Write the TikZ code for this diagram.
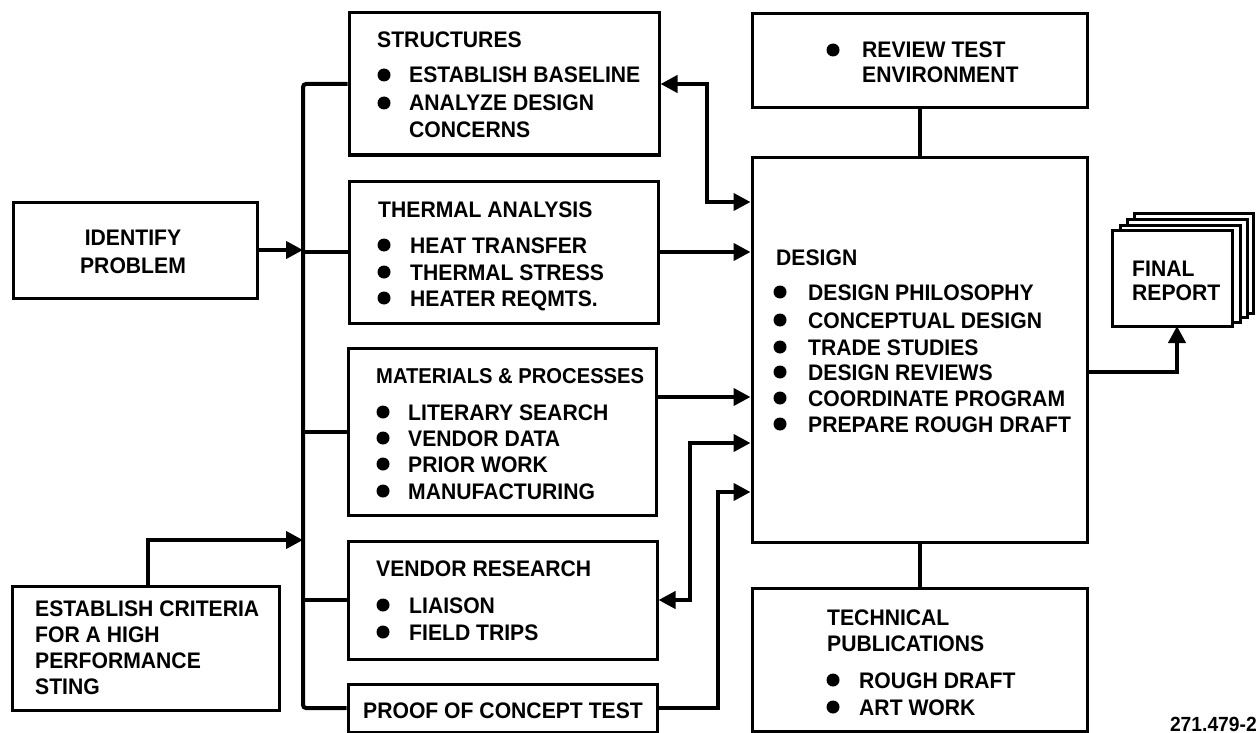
\documentclass[tikz,border=0pt]{standalone}
\usepackage{fontspec}
\setmainfont{Liberation Sans}[FakeStretch=0.94]
\usetikzlibrary{arrows.meta,fit}
\tikzset{
  box/.style={draw, line width=3pt, inner sep=0pt, fill=none},
  ln/.style={line width=4pt},
  arr/.style={line width=4pt, -{Triangle[length=17pt,width=17pt]}},
  darr/.style={line width=4pt, {Triangle[length=17pt,width=17pt]}-{Triangle[length=17pt,width=17pt]}},
  t/.style={inner sep=0pt, font=\fontsize{22.5}{26}\selectfont\bfseries},
}
\newcommand\tl[4]{\node[t, anchor=base west] (#1) at (#2,#3) {#4};}
\newcommand\tc[4]{\node[t, anchor=base] (#1) at (#2,#3) {#4};}
\newcommand\bul[2]{\fill (#1,#2) circle[radius=6.5pt];}
\begin{document}
\begin{tikzpicture}[x=1pt,y=-1pt]
\useasboundingbox (0,0) rectangle (1258,733);
% boxes
\node[box, fit={(13,202) (257,298)}] (idp) {};
\node[box, fit={(12,586) (279,710)}] (crit) {};
\node[box, fit={(349,13) (659,155)}] (str) {};
\node[box, fit={(349,181) (658,323)}] (thm) {};
\node[box, fit={(348,348) (656,515)}] (mat) {};
\node[box, fit={(348,541) (657,659)}] (ven) {};
\node[box, fit={(348,684) (657,732)}] (poc) {};
\node[box, fit={(752,14) (1087,108)}] (rev) {};
\node[box, fit={(752,157) (1087,542)}] (des) {};
\node[box, fit={(752,588) (1087,731)}] (tec) {};
% final report stack
\node[box, fill=white, fit={(1134,213) (1253,313)}] (fin3) {};
\node[box, fill=white, fit={(1127,219) (1247,317)}] (fin2) {};
\node[box, fill=white, fit={(1120,225) (1240,322)}] (fin1) {};
\node[box, fill=white, fit={(1112,230) (1232,326)}] (fin) {};
% texts
\tc{idp1}{133}{245}{IDENTIFY}
\tc{idp2}{133}{273}{PROBLEM}
\tl{cr1}{35}{616}{ESTABLISH CRITERIA}
\tl{cr2}{35}{642}{FOR A HIGH}
\tl{cr3}{35}{668}{PERFORMANCE}
\tl{cr4}{35}{694}{STING}
\tl{st0}{377}{48}{STRUCTURES}
\bul{384}{75}\bul{384}{103}
\tl{st1}{409}{83}{ESTABLISH BASELINE}
\tl{st2}{409}{111}{ANALYZE DESIGN}
\tl{st3}{409}{138}{CONCERNS}
\tl{th0}{378}{217}{THERMAL ANALYSIS}
\bul{384}{245}\bul{384}{272}\bul{384}{298}
\tl{th1}{410}{253}{HEAT TRANSFER}
\tl{th2}{410}{280}{THERMAL STRESS}
\tl{th3}{410}{306}{HEATER REQMTS.}
\node[t, anchor=base west, font=\fontsize{21.5}{26}\selectfont\bfseries] (ma0) at (376,383) {MATERIALS \& PROCESSES};
\bul{383}{412}\bul{383}{438}\bul{383}{464}\bul{383}{491}
\tl{ma1}{408}{420}{LITERARY SEARCH}
\tl{ma2}{408}{446}{VENDOR DATA}
\tl{ma3}{408}{472}{PRIOR WORK}
\tl{ma4}{408}{499}{MANUFACTURING}
\tl{ve0}{376}{576}{VENDOR RESEARCH}
\bul{383}{605}\bul{383}{632}
\tl{ve1}{409}{613}{LIAISON}
\tl{ve2}{409}{640}{FIELD TRIPS}
\tc{po1}{503}{718}{PROOF OF CONCEPT TEST}
\bul{833}{50}
\tl{re1}{862}{58}{REVIEW TEST}
\tl{re2}{862}{83}{ENVIRONMENT}
\tl{de0}{776}{265}{DESIGN}
\bul{780}{292}\bul{780}{320}\bul{780}{347}\bul{780}{372}\bul{780}{398}\bul{780}{424}
\tl{de1}{808}{300}{DESIGN PHILOSOPHY}
\tl{de2}{808}{328}{CONCEPTUAL DESIGN}
\tl{de3}{808}{355}{TRADE STUDIES}
\tl{de4}{808}{380}{DESIGN REVIEWS}
\tl{de5}{808}{406}{COORDINATE PROGRAM}
\tl{de6}{808}{432}{PREPARE ROUGH DRAFT}
\tl{te0}{827}{625}{TECHNICAL}
\tl{te1}{827}{651}{PUBLICATIONS}
\bul{833}{680}\bul{833}{707}
\tl{te2}{859}{688}{ROUGH DRAFT}
\tl{te3}{859}{715}{ART WORK}
\tl{fi1}{1132}{276}{FINAL}
\tl{fi2}{1132}{300}{REPORT}
\node[inner sep=0pt, anchor=base east, font=\fontsize{20.5}{22}\selectfont\bfseries] (code) at (1257,731) {271.479-2};
% bus
\coordinate (bt) at (303,84);
\coordinate (bb) at (303,708);
\draw[ln, rounded corners=3pt] (str.west) -- (bt) -- (bb) -- (poc.west);
\draw[ln] (thm.west) -- (thm.west -| bt);
\draw[ln] (mat.west) -- (mat.west -| bt);
\draw[ln] (ven.west) -- (ven.west -| bt);
\draw[arr] (idp.east) -- (idp.east -| bt);
\coordinate (cr) at (148,540);
\draw[arr] (crit.north -| cr) -- (cr) -- (cr -| bt);
% to design
\coordinate (sd) at (707,202);
\draw[darr] (str.east) -| (sd) -- (sd -| des.west);
\draw[arr] (thm.east) -- (thm.east -| des.west);
\coordinate (md) at (656,397);
\draw[arr] (md) -- (md -| des.west);
\coordinate (vd) at (690,443);
\draw[darr] (ven.east) -| (vd) -- (vd -| des.west);
\coordinate (pd) at (718,492);
\draw[arr] (poc.east) -| (pd) -- (pd -| des.west);
\draw[ln] (rev.south) -- (des.north);
\draw[ln] (des.south) -- (tec.north);
\coordinate (df) at (1087,372);
\coordinate (fa) at (1177,326);
\draw[arr] (df) -| (fa);
\end{tikzpicture}
\end{document}
